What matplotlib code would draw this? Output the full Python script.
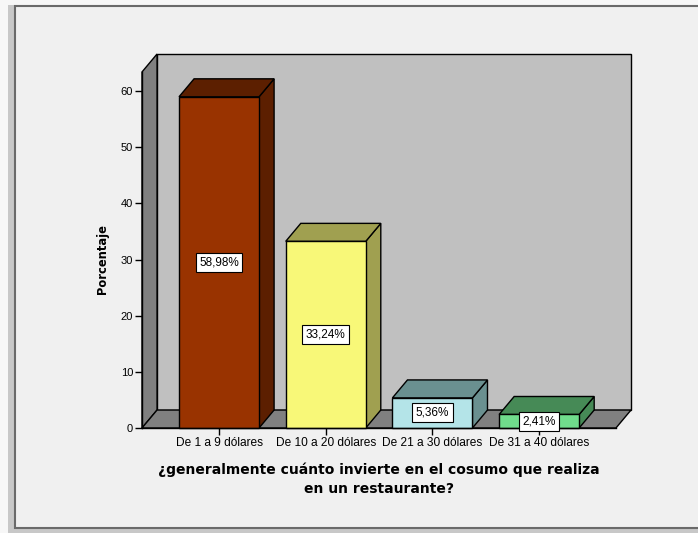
import matplotlib
matplotlib.use('Agg')
import matplotlib.pyplot as plt
from matplotlib.patches import Polygon, Rectangle

categories = ['De 1 a 9 dólares', 'De 10 a 20 dólares', 'De 21 a 30 dólares', 'De 31 a 40 dólares']
porcentajes = [58.98, 33.24, 5.36, 2.41]
etiquetas = ['58,98%', '33,24%', '5,36%', '2,41%']
yticks = [0, 10, 20, 30, 40, 50, 60]
titulo_x = '¿generalmente cuánto invierte en el cosumo que realiza\nen un restaurante?'
titulo_y = 'Porcentaje'

front_colors = ['#993300', '#f8f878', '#b4e4e8', '#70dc8c']
side_colors = ['#5c1f00', '#a0a050', '#6a9090', '#468a56']

W, H = 698, 533
fig = plt.figure(figsize=(W / 100, H / 100), dpi=100, facecolor='#f7f7f7')

def px(x0, y0, x1, y1):
    # pixel box (top-left origin) -> figure fraction [l, b, w, h]
    return [x0 / W, 1 - y1 / H, (x1 - x0) / W, (y1 - y0) / H]

# window frame around the chart
fig.patches.append(Rectangle((8 / W, 0), 7 / W, 1 - 5 / H, transform=fig.transFigure,
                             facecolor='#c8c8c8', edgecolor='none', zorder=-2))
fig.patches.append(Rectangle((8 / W, 0), 1, 5 / H, transform=fig.transFigure,
                             facecolor='#c8c8c8', edgecolor='none', zorder=-2))
l, b, w, h = px(15, 5.5, 700, 528)
fig.patches.append(Rectangle((l, b), w, h, transform=fig.transFigure,
                             facecolor='#f0f0f0', edgecolor='#6a6a6a', linewidth=1.5, zorder=-1))

ax = fig.add_axes(px(142, 54, 631, 428))
ax.set_facecolor('none')
ax.set_zorder(1)

x0, x1 = -0.722, 3.72      # front edge of the floor
dx, dy = 0.141, 3.2        # depth offset
ytop = 63.4
bw = 0.75

ax.set_xlim(x0, x1 + dx)
ax.set_ylim(0, ytop + dy)

edge = dict(edgecolor='black', linewidth=1.0, joinstyle='miter', clip_on=False)
# back wall, left wall and floor
ax.add_patch(Polygon([(x0 + dx, dy), (x1 + dx, dy), (x1 + dx, ytop + dy), (x0 + dx, ytop + dy)],
                     facecolor='#c0c0c0', **edge))
ax.add_patch(Polygon([(x0, 0), (x0, ytop), (x0 + dx, ytop + dy), (x0 + dx, dy)],
                     facecolor='#808080', **edge))
ax.add_patch(Polygon([(x0, 0), (x1, 0), (x1 + dx, dy), (x0 + dx, dy)],
                     facecolor='#808080', **edge))

for i, v in enumerate(porcentajes):
    a, c = i - bw / 2, i + bw / 2
    ax.add_patch(Polygon([(c, 0), (c + dx, dy), (c + dx, v + dy), (c, v)],
                         facecolor=side_colors[i], **edge))
    ax.add_patch(Polygon([(a, v), (c, v), (c + dx, v + dy), (a + dx, v + dy)],
                         facecolor=side_colors[i], **edge))
    ax.add_patch(Polygon([(a, 0), (c, 0), (c, v), (a, v)],
                         facecolor=front_colors[i], **edge))
    ax.text(i, v / 2, etiquetas[i], ha='center', va='center', fontsize=8.5,
            family='Liberation Sans', zorder=5,
            bbox=dict(boxstyle='square,pad=0.3', facecolor='white', edgecolor='black', linewidth=0.8))

for s in ['top', 'right']:
    ax.spines[s].set_visible(False)
ax.spines['left'].set_bounds(0, ytop)
ax.spines['bottom'].set_bounds(x0, x1)
ax.spines['left'].set_linewidth(1.0)
ax.spines['bottom'].set_linewidth(1.0)

ax.set_yticks(yticks)
ax.set_yticklabels([str(t) for t in yticks], family='Liberation Sans', fontsize=8)
ax.set_xticks(range(len(categories)))
ax.set_xticklabels(categories, family='Liberation Sans', fontsize=8.6)
ax.tick_params(direction='out', length=5, width=1.0, pad=1.5, colors='black')

fig.text(379 / W, 1 - 479 / H, titulo_x, ha='center', va='center', fontsize=10,
         fontweight='bold', family='DejaVu Sans', linespacing=1.45)
fig.text(102 / W, 1 - 259 / H, titulo_y, ha='center', va='center', fontsize=8.3,
         fontweight='bold', family='DejaVu Sans', rotation=90)

fig.savefig('out.png', dpi=100, facecolor=fig.get_facecolor())
